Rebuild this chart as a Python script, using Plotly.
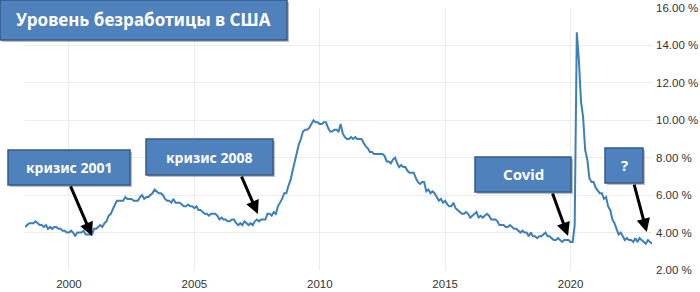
import pandas as pd
import plotly.graph_objects as go

# US unemployment rate, monthly, Apr 1998 - Apr 2023 (%)
start_month = "1998-04-01"
rate = [
    4.3, 4.4, 4.5, 4.5, 4.5, 4.6, 4.5, 4.4, 4.4,                      # 1998 Apr-Dec
    4.3, 4.4, 4.2, 4.3, 4.2, 4.3, 4.3, 4.2, 4.2, 4.1, 4.1, 4.0,      # 1999
    4.0, 4.1, 4.0, 3.8, 4.0, 4.0, 4.0, 4.1, 3.9, 3.9, 3.9, 3.9,      # 2000
    4.2, 4.2, 4.3, 4.4, 4.3, 4.5, 4.6, 4.9, 5.0, 5.3, 5.5, 5.7,      # 2001
    5.7, 5.7, 5.7, 5.9, 5.8, 5.8, 5.8, 5.7, 5.7, 5.7, 5.9, 6.0,      # 2002
    5.8, 5.9, 5.9, 6.0, 6.1, 6.3, 6.2, 6.1, 6.1, 6.0, 5.8, 5.7,      # 2003
    5.7, 5.6, 5.8, 5.6, 5.6, 5.6, 5.5, 5.4, 5.4, 5.5, 5.4, 5.4,      # 2004
    5.3, 5.4, 5.2, 5.2, 5.1, 5.0, 5.0, 4.9, 5.0, 5.0, 5.0, 4.9,      # 2005
    4.7, 4.8, 4.7, 4.7, 4.6, 4.6, 4.7, 4.7, 4.5, 4.4, 4.5, 4.4,      # 2006
    4.6, 4.5, 4.4, 4.5, 4.4, 4.6, 4.7, 4.6, 4.7, 4.7, 4.7, 5.0,      # 2007
    5.0, 4.9, 5.1, 5.0, 5.4, 5.6, 5.8, 6.1, 6.1, 6.5, 6.8, 7.3,      # 2008
    7.8, 8.3, 8.7, 9.0, 9.4, 9.5, 9.5, 9.6, 9.8, 10.0, 9.9, 9.9,     # 2009
    9.8, 9.8, 9.9, 9.9, 9.6, 9.4, 9.4, 9.5, 9.5, 9.4, 9.8, 9.3,      # 2010
    9.1, 9.0, 9.0, 9.1, 9.0, 9.1, 9.0, 9.0, 9.0, 8.8, 8.6, 8.5,      # 2011
    8.3, 8.3, 8.2, 8.2, 8.2, 8.2, 8.2, 8.1, 7.8, 7.8, 7.7, 7.9,      # 2012
    8.0, 7.7, 7.5, 7.6, 7.5, 7.5, 7.3, 7.2, 7.2, 7.2, 6.9, 6.7,      # 2013
    6.6, 6.7, 6.7, 6.2, 6.3, 6.1, 6.2, 6.1, 5.9, 5.7, 5.8, 5.6,      # 2014
    5.7, 5.5, 5.4, 5.4, 5.6, 5.3, 5.2, 5.1, 5.0, 5.0, 5.1, 5.0,      # 2015
    4.8, 4.9, 5.0, 5.1, 4.8, 4.9, 4.8, 4.9, 5.0, 4.9, 4.7, 4.7,      # 2016
    4.7, 4.6, 4.4, 4.4, 4.4, 4.3, 4.3, 4.4, 4.3, 4.2, 4.2, 4.1,      # 2017
    4.0, 4.1, 4.0, 4.0, 3.8, 4.0, 3.8, 3.8, 3.7, 3.8, 3.8, 3.9,      # 2018
    4.0, 3.8, 3.8, 3.7, 3.6, 3.6, 3.7, 3.6, 3.5, 3.6, 3.6, 3.6,      # 2019
    3.5, 3.5, 4.4, 14.7, 13.2, 11.0, 10.2, 8.4, 7.9, 6.9, 6.7, 6.7,  # 2020
    6.4, 6.2, 6.1, 6.1, 5.8, 5.9, 5.4, 5.2, 4.7, 4.5, 4.2, 3.9,      # 2021
    4.0, 3.8, 3.6, 3.7, 3.6, 3.6, 3.5, 3.7, 3.5, 3.7, 3.6, 3.5,      # 2022
    3.4, 3.6, 3.5, 3.4,                                              # 2023 Jan-Apr
]
dates = pd.date_range(start_month, periods=len(rate), freq="MS")

y_ticks = [2, 4, 6, 8, 10, 12, 14, 16]
y_tick_labels = [f"{v:.2f} %" for v in y_ticks]
x_ticks = ["2000-01-01", "2005-01-01", "2010-01-01", "2015-01-01", "2020-01-01"]
x_tick_labels = ["2000", "2005", "2010", "2015", "2020"]

title_text = "Уровень безработицы в США"
notes = ["кризис 2001", "кризис 2008", "Covid", "?"]
note_tips = [("2000-12-01", 3.82), ("2007-07-15", 4.99), ("2019-11-25", 3.82), ("2023-01-15", 4.03)]

W, H = 700, 292
L, R, T, B = 25, 652, 8, 270


def px(x):
    return (x - L) / (R - L)


def py(y):
    return (B - y) / (B - T)


fig = go.Figure()
fig.add_trace(go.Scatter(x=dates, y=rate, mode="lines",
                         line=dict(color="#3d7fba", width=2), hoverinfo="skip"))

BOX_FILL = "#4f81bd"
BOX_LINE = "#36598a"
SHADOW = "rgba(90,90,90,0.4)"

boxes = [
    # (x0, y0, x1, y1, text, fontsize)
    (0, 0, 287, 40, title_text, 17),
    (8, 150, 130, 185, notes[0], 14),
    (146, 139, 273, 175, notes[1], 14),
    (475, 157, 571, 192, notes[2], 15),
    (605, 148, 643, 183, notes[3], 15),
]
shapes = []
annotations = []
for x0, y0, x1, y1, text, fs in boxes:
    shapes.append(dict(type="rect", xref="paper", yref="paper", layer="above",
                       x0=px(x0 + 2), x1=px(x1 + 2), y0=py(y0 + 2), y1=py(y1 + 2),
                       line=dict(width=0), fillcolor=SHADOW))
    shapes.append(dict(type="rect", xref="paper", yref="paper", layer="above",
                       x0=px(x0), x1=px(x1), y0=py(y0), y1=py(y1),
                       line=dict(color=BOX_LINE, width=1.5), fillcolor=BOX_FILL))
    annotations.append(dict(xref="paper", yref="paper", x=px((x0 + x1) / 2), y=py((y0 + y1) / 2),
                            xanchor="center", yanchor="middle", showarrow=False,
                            text=f"<b>{text}</b>",
                            font=dict(family="Noto Sans", size=fs, color="white")))

tails = [(-22, -51), (-17, -39), (-16, -44), (-13, -49)]
for (tx, ty), (ax, ay) in zip(note_tips, tails):
    annotations.append(dict(x=tx, y=ty, xref="x", yref="y", ax=ax, ay=ay,
                            showarrow=True, arrowhead=2, arrowsize=0.9, arrowwidth=3,
                            arrowcolor="black", text=""))

fig.update_layout(
    width=W, height=H,
    margin=dict(l=L, r=W - R, t=T, b=H - B, autoexpand=False),
    paper_bgcolor="white", plot_bgcolor="white",
    showlegend=False,
    shapes=shapes, annotations=annotations,
    xaxis=dict(range=[dates[0], dates[-1]], tickmode="array", tickvals=x_ticks,
               ticktext=x_tick_labels, showgrid=True, gridcolor="#ececec", gridwidth=1,
               zeroline=False, showline=False, ticks="", ticklabelstandoff=5,
               automargin=False,
               tickfont=dict(family="Liberation Sans", size=11.5, color="#333")),
    yaxis=dict(range=[2, 16], side="right", tickmode="array", tickvals=y_ticks,
               ticktext=y_tick_labels, showgrid=True, gridcolor="#ececec", gridwidth=1,
               zeroline=False, showline=False, ticks="", ticklabelstandoff=3,
               automargin=False,
               tickfont=dict(family="Liberation Sans", size=11.5, color="#333")),
)

fig.write_html("out.html")
